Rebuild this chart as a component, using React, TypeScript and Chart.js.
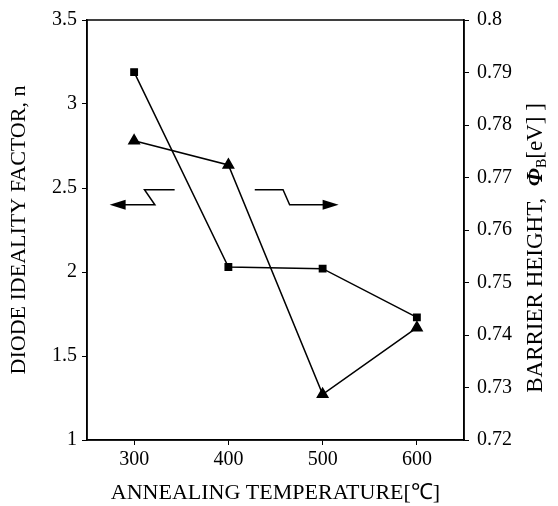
import React, { useEffect, useRef } from "react";
import { Chart, registerables } from "chart.js";

Chart.register(...registerables);

const temperatures = [300, 400, 500, 600];
const idealityFactor = [3.19, 2.03, 2.02, 1.73];
const barrierHeight = [0.777, 0.7724, 0.7287, 0.7414];
const xTicks = [300, 400, 500, 600];

// annotation arrows in data units (x: temperature, y: left axis)
const leftArrow = { topStart: 343, topEnd: 311, bottomStart: 322, tip: 274, yTop: 2.49, yBottom: 2.4 };
const rightArrow = { topStart: 428, topEnd: 458, bottomStart: 465, tip: 517, yTop: 2.49, yBottom: 2.4 };

const FONT = "'Liberation Serif', 'Times New Roman', serif";

export default function App() {
  const ref = useRef<HTMLCanvasElement | null>(null);
  useEffect(() => {
    if (!ref.current) return;
    const boxPlugin = {
      id: "box",
      afterDraw(chart: any) {
        const { ctx, chartArea: a, scales } = chart;
        ctx.save();
        ctx.strokeStyle = "#000";
        ctx.lineWidth = 1.5;
        ctx.strokeRect(a.left, a.top, a.right - a.left, a.bottom - a.top);
        const xs = scales.x, ys = scales.y;
        const drawArrow = (ar: any, dir: number) => {
          const x1 = xs.getPixelForValue(ar.topStart);
          const x2 = xs.getPixelForValue(ar.topEnd);
          const x3 = xs.getPixelForValue(ar.bottomStart);
          const x4 = xs.getPixelForValue(ar.tip);
          const y1 = ys.getPixelForValue(ar.yTop);
          const y2 = ys.getPixelForValue(ar.yBottom);
          ctx.lineWidth = 1.5;
          ctx.beginPath();
          ctx.moveTo(x1, y1);
          ctx.lineTo(x2, y1);
          ctx.lineTo(x3, y2);
          ctx.lineTo(x4 - dir * 12, y2);
          ctx.stroke();
          ctx.beginPath();
          ctx.moveTo(x4, y2);
          ctx.lineTo(x4 - dir * 16, y2 - 5);
          ctx.lineTo(x4 - dir * 16, y2 + 5);
          ctx.closePath();
          ctx.fillStyle = "#000";
          ctx.fill();
        };
        drawArrow(leftArrow, -1);
        drawArrow(rightArrow, 1);
        // right axis title with subscript
        ctx.translate(536, (a.top + a.bottom) / 2 + 18);
        ctx.rotate(-Math.PI / 2);
        ctx.fillStyle = "#000";
        ctx.textBaseline = "middle";
        const parts = [
          { t: "BARRIER HEIGHT,  ", f: `23px ${FONT}`, dy: 0 },
          { t: "\u03A6", f: `bold italic 23px ${FONT}`, dy: 0 },
          { t: "B", f: `14px ${FONT}`, dy: 6 },
          { t: "[eV] ]", f: `23px ${FONT}`, dy: 0 },
        ];
        let total = 0;
        parts.forEach((p) => { ctx.font = p.f; total += ctx.measureText(p.t).width; });
        let x = -total / 2;
        parts.forEach((p) => {
          ctx.font = p.f;
          ctx.textAlign = "left";
          ctx.fillText(p.t, x, p.dy);
          x += ctx.measureText(p.t).width;
        });
        ctx.restore();
      },
    };
    const chart = new Chart(ref.current, {
      type: "line",
      data: {
        datasets: [
          {
            label: "Diode ideality factor",
            data: temperatures.map((t, i) => ({ x: t, y: idealityFactor[i] })),
            yAxisID: "y",
            borderColor: "#000",
            backgroundColor: "#000",
            borderWidth: 1.5,
            pointStyle: "rect",
            pointRadius: 4.5,
          },
          {
            label: "Barrier height",
            data: temperatures.map((t, i) => ({ x: t, y: barrierHeight[i] })),
            yAxisID: "y1",
            borderColor: "#000",
            backgroundColor: "#000",
            borderWidth: 1.5,
            pointStyle: "triangle",
            pointRadius: 6,
          },
        ],
      },
      options: {
        animation: false,
        responsive: true,
        maintainAspectRatio: false,
        layout: { padding: { top: 17, left: 0, right: 0, bottom: 0 } },
        plugins: { legend: { display: false }, tooltip: { enabled: false } },
        scales: {
          x: {
            type: "linear",
            min: 250,
            max: 650,
            afterBuildTicks: (s: any) => { s.ticks = xTicks.map((v) => ({ value: v })); },
            afterFit: (s: any) => { s.height = 66; },
            grid: { drawOnChartArea: false, tickLength: 5, color: "#000" },
            border: { color: "#000", width: 1.5 },
            ticks: { color: "#000", font: { family: FONT, size: 20 }, padding: 3, maxRotation: 0 },
            title: {
              display: true,
              text: "ANNEALING TEMPERATURE[\u2103]",
              color: "#000",
              font: { family: FONT, size: 22 },
              padding: { top: 0, bottom: 0 },
            },
          },
          y: {
            position: "left",
            min: 1,
            max: 3.5,
            ticks: {
              stepSize: 0.5,
              color: "#000",
              font: { family: FONT, size: 20 },
              padding: 5,
              callback: (v: any) => String(v),
            },
            afterFit: (s: any) => { s.width = 87; },
            grid: { drawOnChartArea: false, tickLength: 5, color: "#000" },
            border: { color: "#000", width: 1.5 },
            title: {
              display: true,
              text: "DIODE IDEALITY FACTOR, n",
              color: "#000",
              font: { family: FONT, size: 22 },
              padding: { top: 6, bottom: 0 },
            },
          },
          y1: {
            position: "right",
            min: 0.72,
            max: 0.8,
            ticks: {
              stepSize: 0.01,
              color: "#000",
              font: { family: FONT, size: 20 },
              padding: 8,
              callback: (v: any) => String(Math.round(Number(v) * 100) / 100),
            },
            afterFit: (s: any) => { s.width = 94; },
            grid: { drawOnChartArea: false, tickLength: 5, color: "#000" },
            border: { color: "#000", width: 1.5 },
          },
        },
      },
      plugins: [boxPlugin],
    } as any);
    return () => chart.destroy();
  }, []);
  return (
    <div style={{ position: "fixed", left: 0, top: 0, width: 558, height: 506, background: "#fff" }}>
      <canvas ref={ref} />
    </div>
  );
}
